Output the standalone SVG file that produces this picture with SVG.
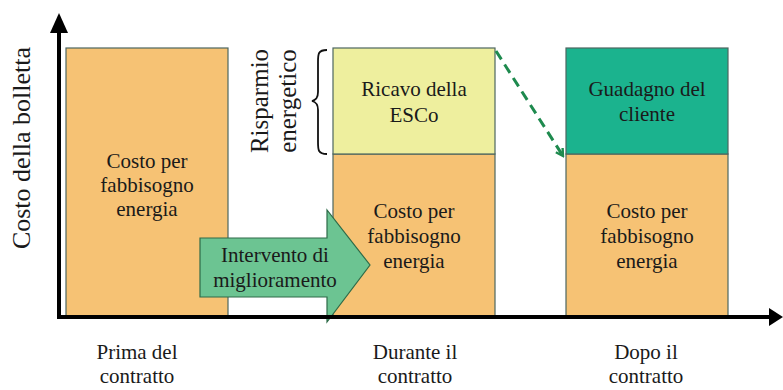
<svg xmlns="http://www.w3.org/2000/svg" width="783" height="390" viewBox="0 0 783 390">
<style>
.bar{stroke:#4d6660;stroke-width:1.2}
.cost{fill:#F6C274}
.esco{fill:#EEEF9E}
.gain{fill:#1BB38E}
.t{font-family:"Liberation Serif","Times New Roman",serif;font-size:21px;fill:#1a1a1a;text-anchor:middle}
.ax{stroke:#000;stroke-width:4;fill:none}
</style>
<defs>
<marker id="dash-head" markerWidth="10" markerHeight="10" refX="8" refY="5" orient="auto" markerUnits="userSpaceOnUse" viewBox="0 0 10 10">
<path d="M1,1 L8,5 L1,9" fill="none" stroke="#1E8A4E" stroke-width="2.4"/>
</marker>
</defs>
<rect width="783" height="390" fill="#fff"/>
<g id="bar-prima">
<rect class="bar cost" x="66" y="48" width="162" height="269"/>
<text class="t" x="147" y="168">Costo per</text>
<text class="t" x="147" y="192">fabbisogno</text>
<text class="t" x="147" y="216">energia</text>
</g>
<g id="bar-durante">
<rect class="bar cost" x="333" y="154" width="162" height="163"/>
<rect class="bar esco" x="333" y="48" width="162" height="106"/>
<text class="t" x="414" y="96">Ricavo della</text>
<text class="t" x="414" y="122">ESCo</text>
<text class="t" x="414" y="218">Costo per</text>
<text class="t" x="414" y="243">fabbisogno</text>
<text class="t" x="414" y="268">energia</text>
</g>
<g id="bar-dopo">
<rect class="bar cost" x="566" y="154" width="162" height="163"/>
<rect class="bar gain" x="566" y="48" width="162" height="106"/>
<text class="t" x="647" y="96">Guadagno del</text>
<text class="t" x="647" y="121">cliente</text>
<text class="t" x="647" y="218">Costo per</text>
<text class="t" x="647" y="243">fabbisogno</text>
<text class="t" x="647" y="268">energia</text>
</g>
<g id="intervento">
<path d="M200,238 L327,238 L327,210 L370,265 L327,322 L327,297 L200,297 Z" fill="#6CC492" stroke="#2E6B48" stroke-width="1.2"/>
<text class="t" x="275" y="262">Intervento di</text>
<text class="t" x="275" y="287">miglioramento</text>
</g>
<g id="risparmio">
<path d="M327,50 C318,50 318,54 318,62 L318,92 C318,98 316,100 312,101 C316,102 318,104 318,110 L318,142 C318,150 318,154 327,154" fill="none" stroke="#111" stroke-width="1.8"/>
<text class="t" transform="translate(268,101) rotate(-90)" style="font-size:25px">Risparmio</text>
<text class="t" transform="translate(296,101) rotate(-90)" style="font-size:25px">energetico</text>
</g>
<g id="axes">
<line class="ax" x1="59" y1="319" x2="59" y2="30"/>
<path d="M50,33 L59,13 L68,33 Z" fill="#000"/>
<line class="ax" x1="57" y1="317" x2="770" y2="317"/>
<path d="M769,308 L783,317 L769,326 Z" fill="#000"/>
<text class="t" transform="translate(30,148) rotate(-90)" style="font-size:26px">Costo della bolletta</text>
</g>
<g id="connectors">
<line x1="496" y1="51" x2="563" y2="156" stroke="#1E8A4E" stroke-width="3" stroke-dasharray="10,6" marker-end="url(#dash-head)"/>
</g>
<g id="labels">
<text class="t" x="137" y="359">Prima del</text>
<text class="t" x="137" y="383">contratto</text>
<text class="t" x="415" y="359">Durante il</text>
<text class="t" x="415" y="383">contratto</text>
<text class="t" x="646" y="359">Dopo il</text>
<text class="t" x="646" y="383">contratto</text>
</g>
</svg>
